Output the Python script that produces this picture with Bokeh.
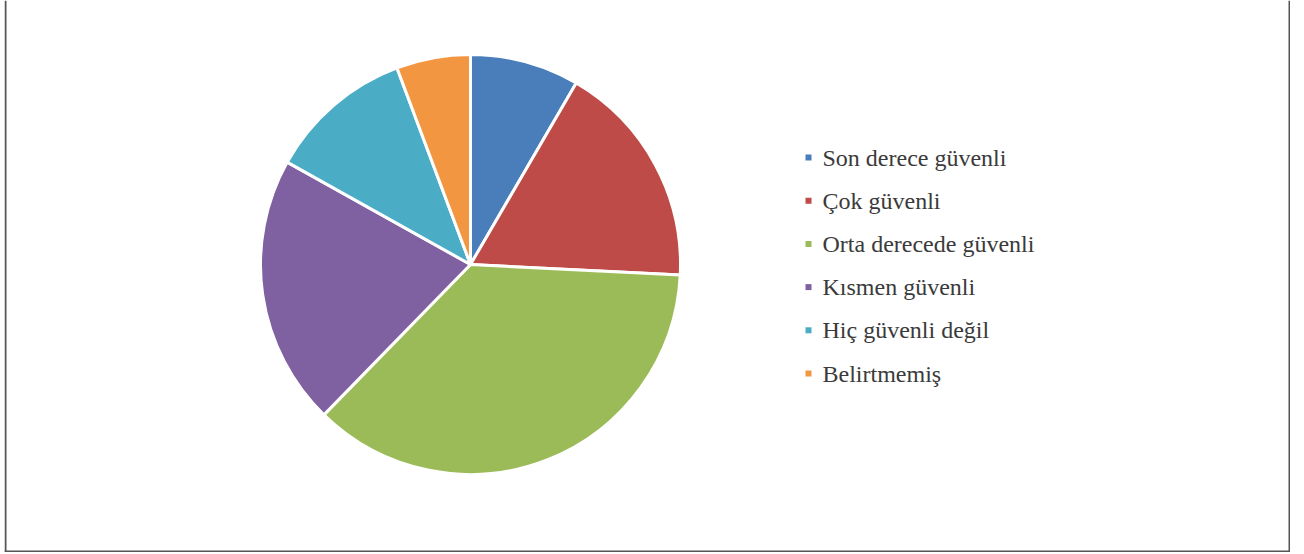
import numpy as np
from bokeh.plotting import figure
from bokeh.models import Range1d, ColumnDataSource
from bokeh.core.properties import value
from bokeh.embed import file_html
from bokeh.resources import INLINE

categories = ["Son derece güvenli", "Çok güvenli", "Orta derecede güvenli",
              "Kısmen güvenli", "Hiç güvenli değil", "Belirtmemiş"]
shares = [8.4, 17.4, 36.5, 20.8, 11.2, 5.7]
colors = ["#4A7EBB", "#BE4B48", "#9BBB59", "#7F60A0", "#4BACC6", "#F39642"]

W, H = 1290, 552
FW = W - 4
p = figure(width=W, height=H, output_backend="svg", toolbar_location=None,
           x_range=Range1d(0, FW), y_range=Range1d(0, H),
           min_border_left=4, min_border_right=0, min_border_top=0,
           min_border_bottom=0, outline_line_color=None)
p.axis.visible = False
p.grid.visible = False
p.background_fill_color = "white"

# open frame (left, right, bottom) like the original picture
p.segment(x0=[1, FW - 1, 0], y0=[H, H, 1], x1=[1, FW - 1, FW], y1=[0, 0, 1],
          line_color="#555555", line_width=2)

vals = np.array(shares, dtype=float)
frac = vals / vals.sum()
cum = np.concatenate([[0.0], np.cumsum(frac)])
start = np.pi / 2 - cum[:-1] * 2 * np.pi
end = np.pi / 2 - cum[1:] * 2 * np.pi

cx, cy, r = 466, 288, 210
src = ColumnDataSource(dict(start=start, end=end, color=colors, cat=categories))
p.wedge(x=cx, y=cy, radius=r, start_angle="start", end_angle="end",
        direction="clock", fill_color="color", line_color="white",
        line_width=3, source=src)

# legend
n = len(categories)
ly = 395 - np.arange(n) * 43.2
lsrc = ColumnDataSource(dict(y=ly, color=colors, cat=categories))
p.scatter(x=804, y="y", marker="square", size=6, fill_color="color",
          line_color=None, source=lsrc)
p.text(x=818, y="y", text="cat", text_font=value("Liberation Serif"),
       text_font_size="24px", text_color="#3a3a3a", text_baseline="middle",
       source=lsrc)

open("out.html", "w").write(file_html(p, INLINE))
